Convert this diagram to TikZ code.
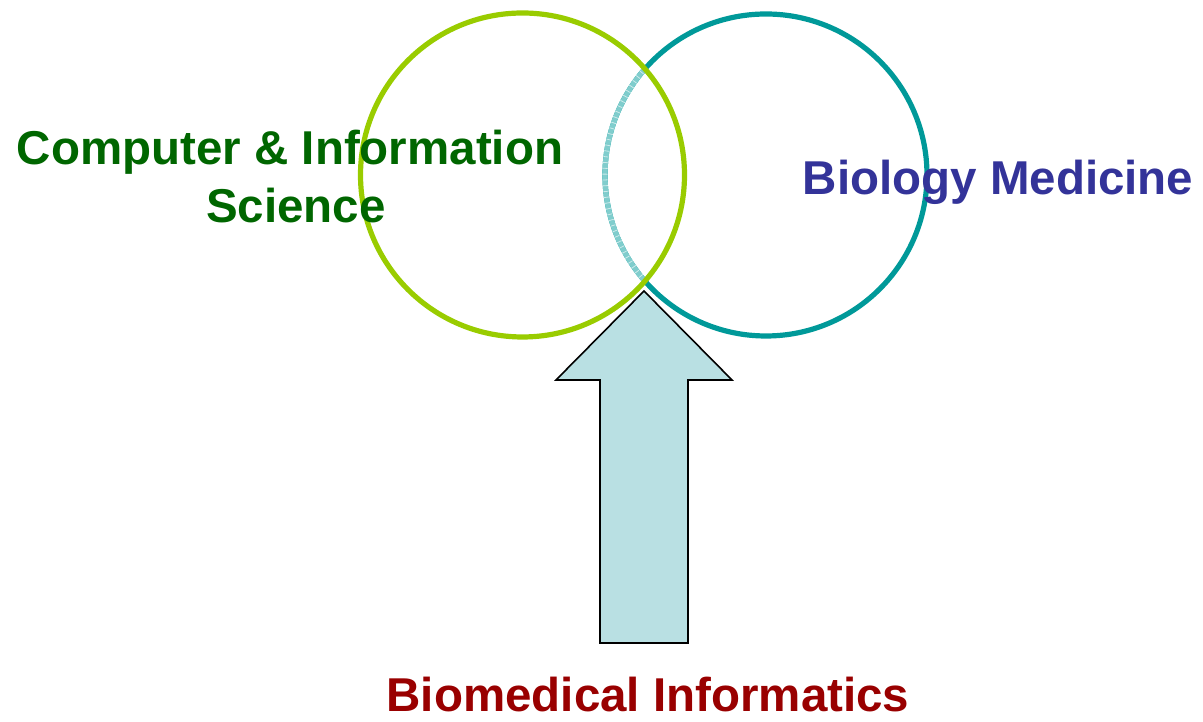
\documentclass[tikz,border=0pt]{standalone}
\usepackage{fontspec}
\setmainfont{Liberation Sans}
\definecolor{cisgreen}{HTML}{006600}
\definecolor{ringgreen}{HTML}{99CC00}
\definecolor{ringteal}{HTML}{009999}
\definecolor{lightteal}{HTML}{80CDCD}
\definecolor{biblue}{HTML}{333399}
\definecolor{bmred}{HTML}{990000}
\definecolor{arrowfill}{HTML}{B9E0E3}
\begin{document}
\begin{tikzpicture}[x=1pt,y=1pt,
  ring/.style={circle, minimum size=322pt, inner sep=0pt, line width=5.2pt},
  label/.style={font=\fontsize{47.5}{58}\selectfont\bfseries, align=center, inner sep=0pt, anchor=base}]
\useasboundingbox (0,0) rectangle (1203,722);
% right circle (teal)
\node[ring, draw=ringteal] (bio) at (766,547) {};
% overlap part of the teal ring, lighter and hatched
\begin{scope}
  \clip (522.5,547) circle (162);
  \draw[lightteal, line width=5.2pt] (766,547) circle (161);
  \draw[white, line width=5.2pt, dash pattern=on 0.8pt off 5pt, opacity=0.6] (766,547) circle (161);
\end{scope}
% left circle (green)
\node[ring, draw=ringgreen, minimum size=324pt] (cis) at (522.5,547) {};
% arrow
\draw[fill=arrowfill, draw=black, line width=1.6pt, line join=miter]
  (644,431) -- (732,342) -- (688,342) -- (688,79) -- (600,79) -- (600,342) -- (556,342) -- cycle;
% texts
\node[label, text=cisgreen] (cist1) at (290,557) {Computer \& Information};
\node[label, text=cisgreen] (cist2) at (296,499) {Science};
\node[label, text=biblue] (biot) at (998,527) {Biology Medicine};
\node[label, text=bmred] (bmi) at (648,10) {Biomedical Informatics};
\end{tikzpicture}
\end{document}
